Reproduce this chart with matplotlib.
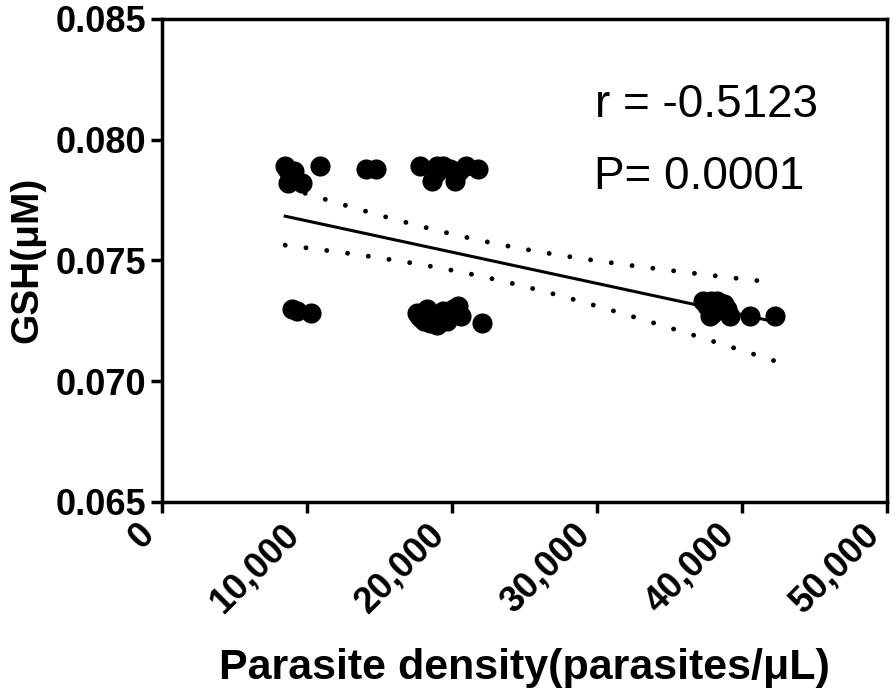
import numpy as np
import matplotlib
matplotlib.use("Agg")
import matplotlib.pyplot as plt

plt.rcParams['font.family'] = ['Liberation Sans', 'DejaVu Sans']

# parasite density (parasites/uL) and GSH (uM)
density = [8500, 8700, 8800, 9650, 10900, 9100, 8600,
           14100, 14800,
           17800, 19000, 19900, 21000, 21800, 18600, 20200, 18900, 20500, 19400,
           9000, 10300, 9300,
           17600, 18300, 19400, 20400, 19000, 18100, 22100, 17900, 18800, 19700, 20100,
           17700, 18500, 19200, 20600,
           37300, 38300, 37800, 39200, 40600, 42300, 37600, 38600, 38000, 37900, 39000, 38800]
gsh = [0.0789, 0.0782, 0.0785, 0.0782, 0.0789, 0.0787, 0.0788,
       0.0788, 0.0788,
       0.0789, 0.0789, 0.0788, 0.0789, 0.0788, 0.0783, 0.0783, 0.0786, 0.0787, 0.0789,
       0.0730, 0.0728, 0.0729,
       0.0728, 0.0730, 0.0729, 0.0731, 0.0723, 0.0725, 0.0724, 0.0726, 0.0727, 0.0725, 0.0730,
       0.0727, 0.0724, 0.0726, 0.0727,
       0.0733, 0.0733, 0.0727, 0.0727, 0.0727, 0.0727, 0.0731, 0.0732, 0.0728, 0.0733, 0.0730, 0.0732]

x_ticks = [0, 10000, 20000, 30000, 40000, 50000]
x_tick_labels = ['0', '10,000', '20,000', '30,000', '40,000', '50,000']
y_ticks = [0.065, 0.070, 0.075, 0.080, 0.085]
y_tick_labels = ['0.065', '0.070', '0.075', '0.080', '0.085']

x = np.array(density, dtype=float)
y = np.array(gsh)

# linear regression + 95% confidence band
n = len(x)
slope, intercept = np.polyfit(x, y, 1)
resid = y - (slope * x + intercept)
s = np.sqrt(np.sum(resid ** 2) / (n - 2))
sxx = np.sum((x - x.mean()) ** 2)
t_crit = 2.01
xf = np.linspace(x.min(), x.max(), 200)
yf = slope * xf + intercept
half = t_crit * s * np.sqrt(1 / n + (xf - x.mean()) ** 2 / sxx)

fig = plt.figure(figsize=(8.96, 7), dpi=100)
ax = fig.add_axes([0.1808, 0.2833, 0.8087, 0.6896])

ax.scatter(x, y, s=210, color='black', zorder=3, linewidths=0)
ax.plot(xf, yf, color='black', lw=2.2)
ax.plot(xf, yf + half, color='black', lw=3.5, ls=(0, (0.01, 4.3)), dash_capstyle='round')
ax.plot(xf, yf - half, color='black', lw=3.5, ls=(0, (0.01, 4.3)), dash_capstyle='round')

ax.set_xlim(0, 50000)
ax.set_ylim(0.065, 0.085)
ax.set_xticks(x_ticks)
ax.set_xticklabels(x_tick_labels, rotation=45, ha='right',
                   fontsize=26, fontweight='bold')
ax.set_yticks(y_ticks)
ax.set_yticklabels(y_tick_labels, fontsize=26, fontweight='bold')

for sp in ax.spines.values():
    sp.set_linewidth(2.5)
ax.tick_params(width=2.5, length=8, pad=3)

ax.set_xlabel('Parasite density(parasites/μL)', fontsize=31, fontweight='bold', labelpad=20)
ax.set_ylabel('GSH(μM)', fontsize=28, fontweight='bold', labelpad=8)

ax.text(29900, 0.08142, 'r = -0.5123', fontsize=33, va='center', ha='left')
ax.text(29800, 0.07846, 'P= 0.0001', fontsize=33, va='center', ha='left')

fig.savefig('out.png', dpi=100)
